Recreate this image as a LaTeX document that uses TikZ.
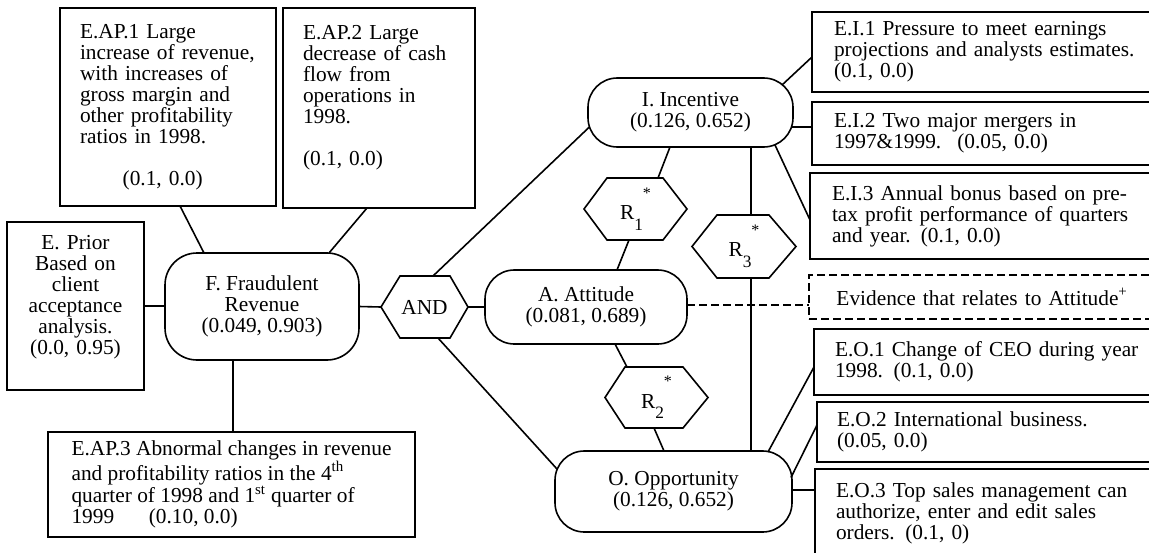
\documentclass[tikz,border=0pt]{standalone}
\usepackage{fontspec}
\setmainfont{Liberation Serif}
\usetikzlibrary{calc}
\newcommand\Rlab[1]{R\raisebox{-8pt}{\fontsize{13}{13}\selectfont #1}\raisebox{16pt}{\fontsize{12}{12}\selectfont *}}
% name, x1, y1, x2, y2, left offset, options, text
\newcommand\tbox[8]{\node[box, inner xsep=#6*0.75pt, text width=(#4-#2-2*#6)*0.75pt, minimum height=(#5-#3)*0.75pt, #7] (#1) at (#2,#3) {#8};}
% name, x1, y1, x2, y2, left slant, right slant, text
\newcommand\hexa[8]{%
  \node[anchor=north west, minimum width=(#4-#2)*0.75pt, minimum height=(#5-#3)*0.75pt] (#1) at (#2,#3) {#8};
  \draw[conn] (#1.west) -- ($(#1.north west)+(#6,0)$) -- ($(#1.north east)+(-#7,0)$) -- (#1.east)
    -- ($(#1.south east)+(-#7,0)$) -- ($(#1.south west)+(#6,0)$) -- cycle;}
\begin{document}
\begin{tikzpicture}[x=0.75pt,y=-0.75pt,
  every node/.style={font=\fontsize{16}{15.8}\selectfont, inner sep=0pt, outer sep=0pt},
  box/.style={draw, line width=1.2pt, anchor=north west, align=left},
  pill/.style={draw, line width=1.2pt, rounded corners=22pt, align=center},
  conn/.style={line width=1.2pt},
  dashline/.style={line width=1.2pt, dash pattern=on 6pt off 3pt}]
\useasboundingbox (0,0) rectangle (1149,553);
\fill[white] (0,0) rectangle (1149,553);
\clip (0,0) rectangle (1149,553);

% evidence boxes (left)
\tbox{EAP1}{60}{8}{276}{206}{20}{}{E.AP.1 Large\\increase of revenue,\\with increases of\\gross margin and\\other profitability\\ratios in 1998.\\[15.8pt]\hspace*{32pt}(0.1, 0.0)}
\tbox{EAP2}{283}{8}{475}{208}{20}{}{E.AP.2 Large\\decrease of cash\\flow from\\operations in\\1998.\\[15.8pt](0.1, 0.0)\\[3pt]\mbox{}}
\tbox{EP}{7}{222}{144}{390}{5}{align=center}{E. Prior\\Based on\\client\\acceptance\\analysis.\\(0.0, 0.95)\\[1pt]\mbox{}}
\node[box, minimum width=367*0.75pt, minimum height=105*0.75pt] (EAP3) at (48,432) {E.AP.3 Abnormal changes in revenue\\and profitability ratios in the 4\textsuperscript{th}\\quarter of 1998 and 1\textsuperscript{st} quarter of\\1999\hspace{26pt}(0.10, 0.0)};

% evidence boxes (right)
\tbox{EI1}{812}{12}{1170}{92}{22}{}{E.I.1 Pressure to meet earnings\\projections and analysts estimates.\\(0.1, 0.0)}
\tbox{EI2}{812}{102}{1170}{165}{22}{}{E.I.2 Two major mergers in\\1997\&1999.\hspace{12pt}(0.05, 0.0)}
\tbox{EI3}{810}{173}{1170}{259}{22}{}{E.I.3 Annual bonus based on pre-\\tax profit performance of quarters\\and year.\hspace{7.5pt}(0.1, 0.0)}
\tbox{EV}{809}{275}{1155}{319}{10}{align=center, dash pattern=on 6pt off 3pt}{Evidence that relates to Attitude\textsuperscript{+}}
\tbox{EO1}{814}{329}{1170}{395}{21}{}{E.O.1 Change of CEO during year\\1998.\hspace{8pt}(0.1, 0.0)}
\tbox{EO2}{817}{402}{1170}{462}{20}{}{E.O.2 International business.\\(0.05, 0.0)}
\tbox{EO3}{815}{469}{1170}{557}{21}{}{E.O.3 Top sales management can\\authorize, enter and edit sales\\orders.\hspace{8pt}(0.1, 0)}

% main nodes
\node[pill, minimum width=194*0.75pt, minimum height=107*0.75pt, rounded corners=24pt] (F) at (262,306.5) {F. Fraudulent\\Revenue\\(0.049, 0.903)};
\node[pill, minimum width=205*0.75pt, minimum height=69*0.75pt] (I) at (690.5,112.5) {I. Incentive\\(0.126, 0.652)};
\node[pill, minimum width=202*0.75pt, minimum height=74*0.75pt] (A) at (586,307) {A. Attitude\\(0.081, 0.689)};
\node[pill, minimum width=237*0.75pt, minimum height=81*0.75pt] (O) at (673.5,491.5) {O. Opportunity\\(0.126, 0.652)};

% hexagons
\hexa{AND}{381}{276}{468}{338}{19}{18}{AND}
\hexa{R1}{584}{178}{687}{240}{23}{24}{\Rlab{1}}
\hexa{R2}{605}{367}{708}{428}{20}{25}{\Rlab{2}}
\hexa{R3}{692}{215}{796}{278}{25}{27}{\Rlab{3}}

% connectors around F
\draw[conn] ($(EAP1.south)+(12,0)$) -- ($(F.north)+(-58,0)$);
\draw[conn] ($(EAP2.south)+(-12,0)$) -- ($(F.north)+(67,0)$);
\draw[conn] (EP.east) -- (EP.east -| F.west);
\draw[conn] ($(F.south)+(-29,0)$) coordinate (fs) -- (fs |- EAP3.north);
\draw[conn] (F.east) -- (AND.west);

% AND to the three factors
\draw[conn] (AND.east) -- (A.west);
\draw[conn] ($(AND.north)+(8.5,0)$) -- ($(I.west)+(1.4,14.5)$);
\draw[conn] ($(AND.south)+(13.5,0)$) -- ($(O.west)+(2,-22.5)$);

% relations
\draw[conn] ($(I.south)+(-20.5,0)$) -- ($(R1.north)+(22.5,0)$);
\draw[conn] ($(R1.south)+(-6.5,0)$) -- ($(A.north)+(31,0)$);
\draw[conn] ($(A.south)+(29,0)$) -- ($(R2.north)+(-29.5,0)$);
\draw[conn] ($(R2.south)+(-2.5,0)$) -- ($(O.north)+(-9.5,0)$);
\draw[conn] ($(I.south)+(60.5,0)$) -- ($(R3.north)+(7,0)$);
\draw[conn] ($(R3.south)+(7,0)$) -- ($(O.north)+(77.5,0)$);

% attitude evidence
\draw[dashline] ($(A.east)+(0,-2)$) coordinate (ae) -- (ae -| EV.west);

% incentive evidence
\draw[conn] ($(I.east)+(-11,-27.5)$) -- ($(EI1.west)+(0,5)$);
\draw[conn] ($(I.east)+(-1.4,14.5)$) coordinate (ie) -- (ie -| EI2.west);
\draw[conn] ($(I.east)+(-18,32.5)$) -- ($(EI3.west)+(0,4)$);

% opportunity evidence
\draw[conn] ($(O.east)+(-24,-39.5)$) -- ($(EO1.west)+(0,5)$);
\draw[conn] ($(O.east)+(-1,-14)$) -- ($(EO2.west)+(0,-7)$);
\draw[conn] ($(O.east)+(0,-1.5)$) coordinate (oe) -- (oe -| EO3.west);
\end{tikzpicture}
\end{document}
